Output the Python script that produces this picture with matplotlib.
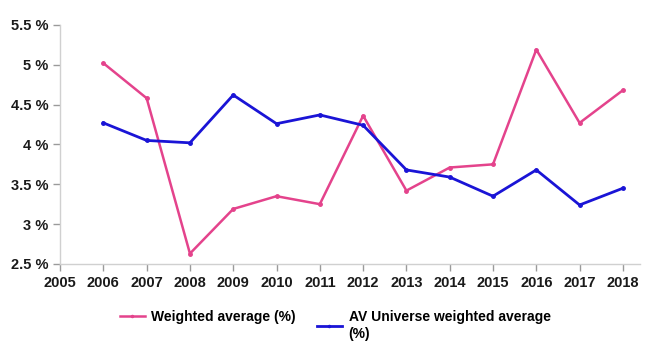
import numpy as np
import matplotlib
matplotlib.use("Agg")
from matplotlib import pyplot as plt
from matplotlib.ticker import FuncFormatter

# Data
years = [2006, 2007, 2008, 2009, 2010, 2011, 2012, 2013, 2014, 2015, 2016, 2017, 2018]
weighted_avg = [5.02, 4.58, 2.63, 3.19, 3.35, 3.25, 4.36, 3.42, 3.71, 3.75, 5.19, 4.27, 4.68]
universe_avg = [4.27, 4.05, 4.02, 4.62, 4.26, 4.37, 4.24, 3.68, 3.59, 3.35, 3.68, 3.24, 3.45]
x_ticks = list(range(2005, 2019))
y_ticks = [2.5, 3, 3.5, 4, 4.5, 5, 5.5]

plt.rcParams["font.family"] = ["Liberation Sans", "DejaVu Sans"]

fig = plt.figure(figsize=(6.6, 3.41), dpi=100)
ax = fig.add_axes([0.091, 0.226, 0.879, 0.701])

pink = "#e4438c"
blue = "#1a14d6"
l1, = ax.plot(years, weighted_avg, "-o", color=pink, lw=1.8, ms=2.5,
              label="Weighted average (%)")
l2, = ax.plot(years, universe_avg, "-o", color=blue, lw=2.0, ms=2.5,
              label="AV Universe weighted average\n(%)")

ax.set_xlim(2005, 2018.4)
ax.set_ylim(2.5, 5.5)
ax.set_xticks(x_ticks)
ax.set_yticks(y_ticks)
ax.yaxis.set_major_formatter(FuncFormatter(lambda v, p: "{:g} %".format(v)))

for s in ["top", "right"]:
    ax.spines[s].set_visible(False)
for s in ["left", "bottom"]:
    ax.spines[s].set_color("#d0d0d0")
    ax.spines[s].set_linewidth(1.0)
ax.tick_params(axis="both", colors="#9a9a9a", length=5, width=1.0,
               labelcolor="#1a1a1a", labelsize=10.5)
for lab in ax.get_xticklabels() + ax.get_yticklabels():
    lab.set_fontweight("bold")

# two separate legends so both entries are top-aligned, like the original
leg_opts = dict(loc="upper left", frameon=False, handlelength=1.8,
                handletextpad=0.5, markerscale=0.6,
                prop={"weight": "bold", "size": 10})
leg1 = ax.legend(handles=[l1], bbox_to_anchor=(0.081, -0.14), **leg_opts)
ax.add_artist(leg1)
leg2 = ax.legend(handles=[l2], bbox_to_anchor=(0.421, -0.14), **leg_opts)
leg2.get_texts()[0].set_linespacing(1.3)

fig.savefig("out.png", dpi=100)
